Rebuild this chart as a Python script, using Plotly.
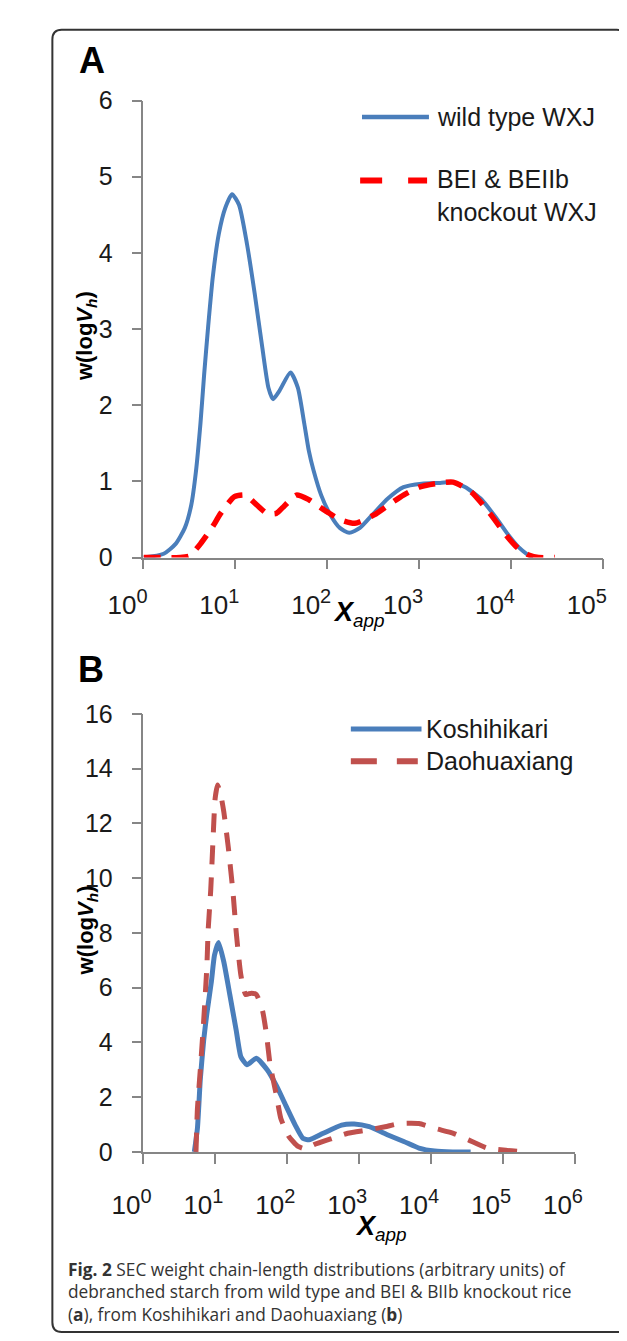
import plotly.graph_objects as go

W, H = 627, 1341

# ---------------- data (log10 of X_app, w(logVh)) ----------------
wt_log = [0.0, 0.22, 0.35, 0.45, 0.52, 0.57, 0.62, 0.66, 0.705, 0.755, 0.82, 0.89, 0.964, 1.04, 1.126,
          1.21, 1.294, 1.36, 1.41, 1.48, 1.6, 1.68, 1.75, 1.8, 1.85, 1.934, 2.035, 2.137, 2.24, 2.356,
          2.49, 2.66, 2.83, 3.03, 3.23, 3.37, 3.5, 3.67, 3.84, 3.97, 4.08, 4.17, 4.24]
wt_w = [0.0, 0.05, 0.18, 0.39, 0.69, 1.12, 1.76, 2.40, 3.05, 3.69, 4.25, 4.59, 4.77, 4.63, 4.12,
        3.47, 2.75, 2.23, 2.08, 2.19, 2.43, 2.23, 1.76, 1.40, 1.15, 0.82, 0.56, 0.39, 0.325, 0.39,
        0.56, 0.775, 0.925, 0.97, 0.98, 0.99, 0.925, 0.775, 0.52, 0.30, 0.14, 0.05, 0.0]

ko_log = [0.0, 0.25, 0.4, 0.5, 0.55, 0.62, 0.755, 0.84, 0.99, 1.11, 1.18, 1.345, 1.446, 1.51, 1.665,
          1.80, 1.90, 2.0, 2.137, 2.3, 2.51, 2.69, 2.83, 3.0, 3.18, 3.37, 3.57, 3.77, 3.97, 4.07,
          4.2, 4.3, 4.48]
ko_w = [0.0, 0.0, 0.0, 0.02, 0.08, 0.18, 0.41, 0.58, 0.80, 0.82, 0.75, 0.58, 0.58, 0.65, 0.82,
        0.76, 0.68, 0.60, 0.50, 0.45, 0.56, 0.71, 0.82, 0.925, 0.97, 0.99, 0.86, 0.58, 0.26, 0.13,
        0.03, 0.0, 0.0]

kos_log = [0.707, 0.75, 0.79, 0.837, 0.88, 0.944, 0.987, 1.044, 1.117, 1.20, 1.29, 1.354, 1.44, 1.57,
           1.72, 1.85, 1.98, 2.11, 2.216, 2.30, 2.50, 2.755, 2.93, 3.14, 3.40, 3.62, 3.83, 4.05, 4.3, 4.55]
kos_w = [0.0, 0.86, 2.65, 4.08, 5.03, 6.22, 7.18, 7.65, 6.94, 5.75, 4.43, 3.48, 3.18, 3.42,
         3.00, 2.41, 1.69, 0.98, 0.50, 0.44, 0.68, 0.98, 1.02, 0.92, 0.62, 0.38, 0.14, 0.03, 0.0, 0.0]

dao_log = [0.73, 0.75, 0.79, 0.837, 0.88, 0.90, 0.935, 0.966, 0.996, 1.03, 1.074, 1.117, 1.18, 1.246,
           1.29, 1.354, 1.42, 1.50, 1.57, 1.656, 1.71, 1.76, 1.85, 1.91, 2.02, 2.15, 2.27, 2.367,
           2.63, 2.84, 3.12, 3.36, 3.57, 3.83, 4.05, 4.31, 4.52, 4.78, 5.04, 5.30]
dao_w = [0.0, 1.57, 3.0, 4.79, 6.70, 8.13, 9.56, 11.35, 12.9, 13.4, 13.05, 12.42, 11.11, 9.44,
         8.01, 6.46, 5.75, 5.8, 5.75, 5.15, 4.3, 3.2, 2.05, 1.22, 0.57, 0.2, 0.1, 0.26,
         0.5, 0.68, 0.80, 0.92, 1.04, 1.04, 0.86, 0.68, 0.44, 0.14, 0.06, 0.0]

yticks_a = [0, 1, 2, 3, 4, 5, 6]
yticks_b = [0, 2, 4, 6, 8, 10, 12, 14, 16]
xexp_a = [0, 1, 2, 3, 4, 5]
xexp_b = [0, 1, 2, 3, 4, 5, 6]

legend_a = ["wild type WXJ", "BEI & BEIIb<br>knockout WXJ"]
legend_b = ["Koshihikari", "Daohuaxiang"]

caption = ("<b>Fig. 2</b> SEC weight chain-length distributions (arbitrary units) of<br>"
           "debranched starch from wild type and BEI &amp; BIIb knockout rice<br>"
           "(<b>a</b>), from Koshihikari and Daohuaxiang (<b>b</b>)")

# ---------------- helpers ----------------
def px(x):
    return x / W

def py(y):
    return 1 - y / H

BLUE = "#4A7EBB"
RED_A = "#FF0000"
RED_B = "#C0504D"
AX = "#868686"
TXT = "#1a1a1a"
FONT = "Liberation Sans, Arial"

fig = go.Figure()
fig.add_trace(go.Scatter(x=[10 ** v for v in wt_log], y=wt_w, mode="lines", xaxis="x", yaxis="y",
                         line=dict(color=BLUE, width=4, shape="spline", smoothing=0.6), showlegend=False))
fig.add_trace(go.Scatter(x=[10 ** v for v in ko_log], y=ko_w, mode="lines", xaxis="x", yaxis="y",
                         line=dict(color=RED_A, width=5.5, dash="17px,11px", shape="spline", smoothing=0.6),
                         showlegend=False))
fig.add_trace(go.Scatter(x=[10 ** v for v in kos_log], y=kos_w, mode="lines", xaxis="x2", yaxis="y2",
                         line=dict(color=BLUE, width=5, shape="spline", smoothing=0.5), showlegend=False))
fig.add_trace(go.Scatter(x=[10 ** v for v in dao_log], y=dao_w, mode="lines", xaxis="x2", yaxis="y2",
                         line=dict(color=RED_B, width=5, dash="19px,13px", shape="spline", smoothing=0.5),
                         showlegend=False))

def tick_text(e):
    return f"10<sup><span style='font-size:20px'>{e}</span></sup>"

def xaxis_cfg(x0, x1, exps, shift, standoff):
    return dict(type="log", domain=[px(x0), px(x1)], range=[exps[0], exps[-1]],
                tickvals=[10 ** e for e in exps], ticktext=[tick_text(e) for e in exps],
                ticks="outside", ticklen=10, tickwidth=1.5, tickcolor=AX,
                showline=True, linecolor=AX, linewidth=1.5, showgrid=False, zeroline=False,
                tickfont=dict(family=FONT, size=26, color=TXT), ticklabelshift=shift,
                ticklabelstandoff=standoff, fixedrange=True)

def yaxis_cfg(ytop, ybot, vals, rng):
    return dict(domain=[py(ybot), py(ytop)], range=rng, tickvals=vals,
                ticks="outside", ticklen=10, tickwidth=1.5, tickcolor=AX,
                showline=True, linecolor=AX, linewidth=1.5, showgrid=False, zeroline=False,
                tickfont=dict(family=FONT, size=25, color=TXT), ticklabelstandoff=14, fixedrange=True)

fig.update_layout(
    width=W, height=H, margin=dict(l=0, r=0, t=0, b=0), autosize=False,
    paper_bgcolor="white", plot_bgcolor="rgba(0,0,0,0)", showlegend=False,
    xaxis=dict(**xaxis_cfg(107, 601, xexp_a, -16, 13), anchor="y"),
    yaxis=dict(**yaxis_cfg(547 - 6 * 77.8, 547, yticks_a, [0, 6]), anchor="x"),
    xaxis2=dict(**xaxis_cfg(107, 571, xexp_b, -12, 19), anchor="y2"),
    yaxis2=dict(**yaxis_cfg(1154 - 16 * 27.96, 1154, yticks_b, [0, 16]), anchor="x2"),
)

# border (open rounded box, right side runs off the picture)
x0, y0, y1, r = 9, 8, 1338, 10
path = (f"M {px(626)},{py(y0 + 3)} Q {px(624)},{py(y0)} {px(616)},{py(y0)} "
        f"L {px(x0 + r)},{py(y0)} Q {px(x0)},{py(y0)} {px(x0)},{py(y0 + r)} "
        f"L {px(x0)},{py(y1 - r)} Q {px(x0)},{py(y1)} {px(x0 + r)},{py(y1)} "
        f"L {px(626)},{py(y1)}")
shapes = [dict(type="path", path=path, xref="paper", yref="paper", line=dict(color="#333333", width=2))]

# legend samples
shapes.append(dict(type="line", xref="paper", yref="paper", x0=px(342), x1=px(414), y0=py(97), y1=py(97),
                   line=dict(color=BLUE, width=4.5)))
shapes.append(dict(type="line", xref="paper", yref="paper", x0=px(340), x1=px(412), y0=py(162), y1=py(162),
                   line=dict(color=RED_A, width=6, dash="22px,26px")))
shapes.append(dict(type="line", xref="paper", yref="paper", x0=px(330), x1=px(406), y0=py(722), y1=py(722),
                   line=dict(color=BLUE, width=5)))
shapes.append(dict(type="line", xref="paper", yref="paper", x0=px(330), x1=px(402), y0=py(755), y1=py(755),
                   line=dict(color=RED_B, width=6, dash="26px,20px")))
fig.update_layout(shapes=shapes)

LF = dict(family="Liberation Sans, Arial", size=25, color=TXT)
ann = []
ann.append(dict(text=legend_a[0], x=px(421), y=py(97), xanchor="left", yanchor="middle", font=LF))
ann.append(dict(text=legend_a[1], x=px(421), y=py(177), xanchor="left", yanchor="middle", font=LF,
                align="left"))
ann.append(dict(text=legend_b[0], x=px(409), y=py(722), xanchor="left", yanchor="middle", font=LF))
ann.append(dict(text=legend_b[1], x=px(409), y=py(755), xanchor="left", yanchor="middle", font=LF))

# panel letters
ann.append(dict(text="<b>A</b>", x=px(35), y=py(39), xanchor="left", yanchor="middle",
                font=dict(family="Liberation Sans, Arial", size=36, color="#000")))
ann.append(dict(text="<b>B</b>", x=px(34), y=py(661), xanchor="left", yanchor="middle",
                font=dict(family="Liberation Sans, Arial", size=36, color="#000")))

# axis titles
ytitle = "<b>w(log<i>V</i><sub><i>h</i></sub>)</b>"
xtitle = "<b><i>X</i></b><sub><i>app</i></sub>"
TF = dict(family="Liberation Sans, Arial", size=22, color="#000")
ann.append(dict(text=ytitle, x=px(46), y=py(321), textangle=-90, xanchor="center", yanchor="middle", font=TF))
ann.append(dict(text=ytitle, x=px(46), y=py(928), textangle=-90, xanchor="center", yanchor="middle", font=TF))
XF = dict(family="Liberation Sans, Arial", size=27, color="#000")
ann.append(dict(text=xtitle, x=px(309), y=py(605), xanchor="left", yanchor="middle", font=XF))
ann.append(dict(text=xtitle, x=px(332), y=py(1232), xanchor="left", yanchor="middle", font=XF))

# caption
ann.append(dict(text=caption, x=px(24), y=py(1297), xanchor="left", yanchor="middle", align="left",
                font=dict(family="Open Sans, Noto Sans", size=17.3, color="#333333")))

for a in ann:
    a.update(xref="paper", yref="paper", showarrow=False)
fig.update_layout(annotations=ann)

fig.write_html("out.html")
